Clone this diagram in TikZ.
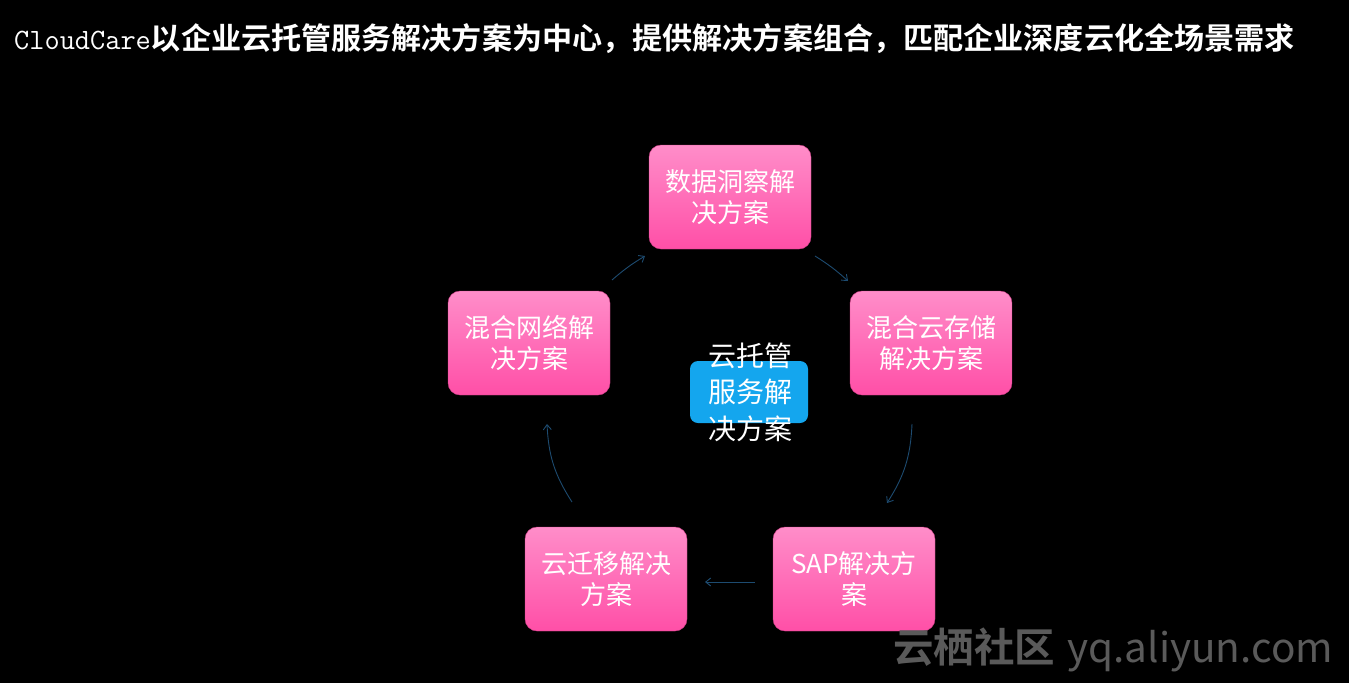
\documentclass[tikz,border=0pt]{standalone}
\usepackage{fontspec}
\newfontfamily\cjk{Noto Sans CJK SC}
\newfontfamily\cjkb{Noto Sans CJK SC}[BoldFont={* Bold}]
\usetikzlibrary{arrows.meta}
\definecolor{pinktop}{HTML}{FF8DC9}
\definecolor{pinkbot}{HTML}{FF4FA7}
\definecolor{arrowc}{HTML}{1D4B70}
\definecolor{centerblue}{HTML}{14A6EE}
\definecolor{wm}{HTML}{5A5A5A}
\tikzset{
  pinkbox/.style={rectangle, rounded corners=12pt, top color=pinktop, bottom color=pinkbot,
    draw=pinkbot!80!black, line width=0.4pt, minimum width=162pt, minimum height=104pt,
    align=center, text=white, font=\cjk\fontsize{26}{31}\selectfont, inner sep=4pt},
  flow/.style={draw=arrowc, line width=0.9pt, -{Straight Barb[length=5pt,width=8pt]}},
}
\begin{document}
\begin{tikzpicture}[x=1pt,y=-1pt]
\useasboundingbox (0,0) rectangle (1349,683);
\fill[black] (0,0) rectangle (1349,683);
\node[anchor=west, text=white, inner sep=0pt] (title) at (14,39)
  {{\fontsize{29.5}{32}\selectfont\ttfamily CloudCare}{\fontsize{30.1}{32}\selectfont\cjkb\bfseries 以企业云托管服务解决方案为中心，提供解决方案组合，匹配企业深度云化全场景需求}};
\node[pinkbox] (top) at (730,197) {数据洞察解\\决方案};
\node[pinkbox] (right) at (931,343) {混合云存储\\解决方案};
\node[pinkbox] (sap) at (854,579) {SAP解决方\\案};
\node[pinkbox] (mig) at (606,579) {云迁移解决\\方案};
\node[pinkbox] (left) at (529,343) {混合网络解\\决方案};
\node[rectangle, rounded corners=8pt, fill=centerblue, minimum width=118pt, minimum height=62pt] (centerbox) at (749,392) {};
\node[text=white, align=center, font=\cjk\fontsize{28}{36.5}\selectfont] (centertext) at (750,392) {云托管\\服务解\\决方案};
\coordinate (a1s) at (612,280);
\coordinate (a1e) at (645,256);
\coordinate (a2s) at (815,256);
\coordinate (a2e) at (848,281);
\coordinate (a3s) at (912,424);
\coordinate (a3e) at (887,503);
\coordinate (a4s) at (755,582);
\coordinate (a4e) at (705,582);
\coordinate (a5s) at (572,502);
\coordinate (a5e) at (547,424);
\draw[flow] (a1s) to[bend left=5] (a1e);
\draw[flow] (a2s) to[bend left=5] (a2e);
\draw[flow] (a3s) to[bend left=15] (a3e);
\draw[flow] (a4s) -- (a4e);
\draw[flow] (a5s) to[bend left=15] (a5e);
\node[anchor=west, text=wm, inner sep=0pt] (watermark) at (893,650)
  {\fontsize{40.5}{42}\selectfont{\cjkb\bfseries 云栖社区} {\cjk yq.aliyun.com}};
\end{tikzpicture}
\end{document}
